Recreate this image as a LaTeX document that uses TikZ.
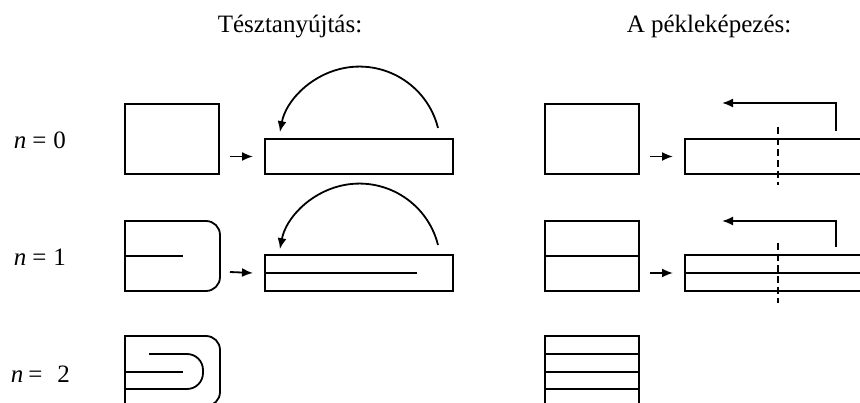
\documentclass[tikz,border=0pt]{standalone}
\usepackage{fontspec}
\setmainfont{Liberation Serif}
\usetikzlibrary{arrows.meta,calc}
\begin{document}
\begin{tikzpicture}[x=1pt,y=-1pt, line width=1.8pt, line join=miter,
  box/.style={draw, rectangle, inner sep=0pt, outer sep=0pt, anchor=north west},
  sq/.style={box, minimum width=94pt, minimum height=70pt},
  strip/.style={box, minimum width=188pt, minimum height=35pt},
  arr/.style={-{Latex[length=11pt,width=9pt]}},
  lbl/.style={font=\fontsize{25}{25}\selectfont, anchor=base west, inner sep=0pt},
  ttl/.style={font=\fontsize{25}{25}\selectfont, anchor=base, inner sep=0pt},
  cutline/.style={dash pattern=on 7pt off 4pt}]
\useasboundingbox (0,0) rectangle (860,403);
\clip (0,0) rectangle (860,403);

% titles
\node[ttl] (t1) at (290,33) {Tésztanyújtás:};
\node[ttl] (t2) at (709,33) {A pékleképezés:};

% row labels
\node[lbl] (n0) at (13,149) {\textit{n}\hspace{6pt}=\hspace{7pt}0};
\node[lbl] (n1) at (13,266) {\textit{n}\hspace{6pt}=\hspace{7pt}1};
\node[lbl] (n2) at (10,383) {\textit{n}\hspace{5pt}=\hspace{15pt}2};

% ---------- left column ----------
% row 0
\node[sq] (a0) at (125,104) {};
\node[strip] (b0) at (265,139) {};
\draw[arr] ($(a0.east|-b0.west)+(11,0)$) -- ($(b0.west)+(-12,0)$);
\coordinate (s0) at (438,128);
\draw[arr] (s0) arc[start angle=-14, end angle=-169, radius=81];

% row 1
\draw[rounded corners=14pt] (125,221) -- (220,221) -- (220,291) -- (125,291);
\draw[line cap=rect] (125,221) -- (125,291);
\draw (125,256) -- (183,256);
\node[box, minimum width=188pt, minimum height=36pt] (b1) at (265,255) {};
\draw (b1.west) -- ++(152,0);
\draw[arr] ($(220,291)+(10,-19)$) -- ($(b1.west)+(-12,0)$);
\coordinate (s1) at (438,245);
\draw[arr] (s1) arc[start angle=-14, end angle=-169, radius=81];

% row 2
\draw[rounded corners=14pt] (125,336) -- (220,336) -- (220,406) -- (125,406);
\draw[line cap=rect] (125,336) -- (125,406);
\draw[rounded corners=16pt] (149,354) -- (203,354) -- (203,389) -- (125,389);
\draw (125,372) -- (183,372);

% ---------- right column ----------
% row 0
\node[sq] (c0) at (545,104) {};
\node[strip] (d0) at (685,139) {};
\draw[arr] ($(c0.east|-d0.west)+(11,0)$) -- ($(d0.west)+(-12,0)$);
\draw[cutline] (778,127) -- (778,185);
\coordinate (u0) at (836,131);
\coordinate (v0) at (722,103);
\draw[arr] (u0) |- (v0);

% row 1
\node[sq] (c1) at (545,221) {};
\draw (c1.west) -- (c1.east);
\node[box, minimum width=188pt, minimum height=36pt] (d1) at (685,255) {};
\draw (d1.west) -- (d1.east);
\draw[arr] ($(c1.east|-d1.west)+(11,0)$) -- ($(d1.west)+(-12,0)$);
\draw[cutline] (778,243) -- (778,303);
\coordinate (u1) at (836,247);
\coordinate (v1) at (722,221);
\draw[arr] (u1) |- (v1);

% row 2
\node[box, minimum width=94pt, minimum height=71pt] (c2) at (545,336) {};
\draw (545,354) -- (639,354);
\draw (545,372) -- (639,372);
\draw (545,389) -- (639,389);
\end{tikzpicture}
\end{document}
